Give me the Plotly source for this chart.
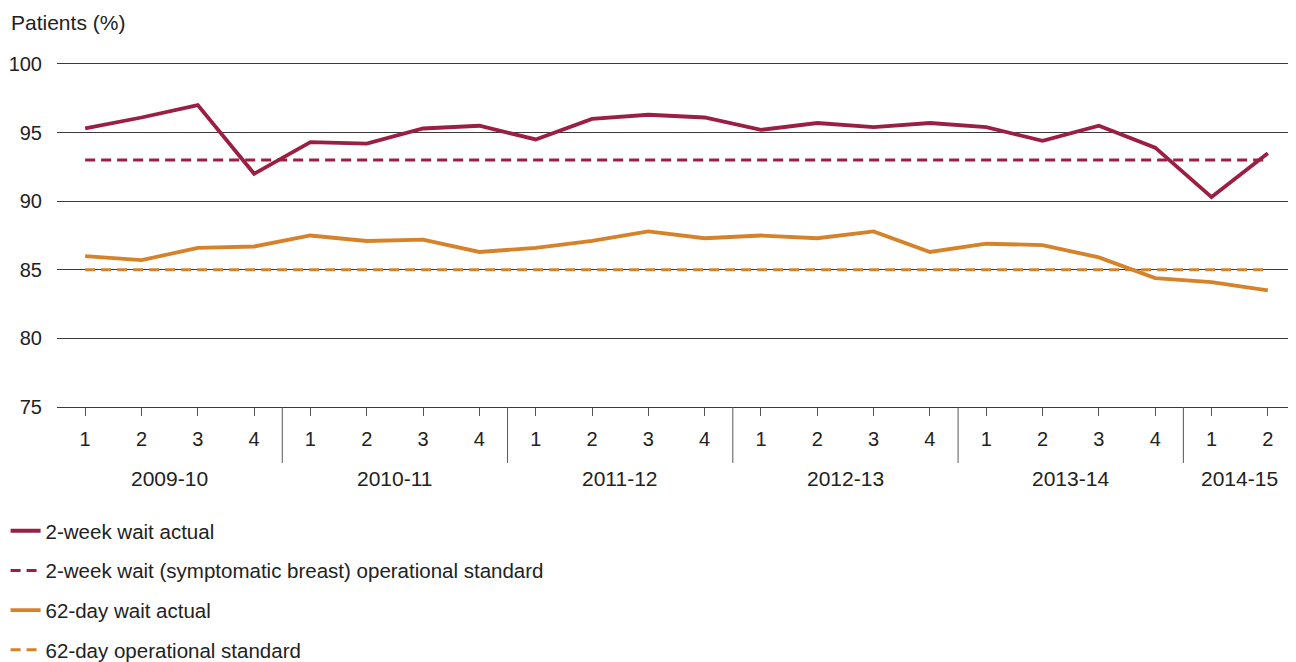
import plotly.graph_objects as go

years = ["2009-10", "2010-11", "2011-12", "2012-13", "2013-14", "2014-15"]
quarters_per_year = [4, 4, 4, 4, 4, 2]

two_week_actual = [95.3, 96.1, 97.0, 92.0, 94.3, 94.2, 95.3, 95.5, 94.5, 96.0, 96.3,
                   96.1, 95.2, 95.7, 95.4, 95.7, 95.4, 94.4, 95.5, 93.9, 90.3, 93.5]
two_week_standard = 93
sixty_two_actual = [86.0, 85.7, 86.6, 86.7, 87.5, 87.1, 87.2, 86.3, 86.6, 87.1, 87.8,
                    87.3, 87.5, 87.3, 87.8, 86.3, 86.9, 86.8, 85.9, 84.4, 84.1, 83.5]
sixty_two_standard = 85

MAROON = "#9B1F42"
ORANGE = "#D5822A"
TEXT = "#222222"
FONT = "Liberation Sans, Arial, sans-serif"

quarter_labels = []
for n in quarters_per_year:
    quarter_labels += [str(q) for q in range(1, n + 1)]
x = list(range(len(quarter_labels)))


def main():
    fig = go.Figure()
    traces = [
        ("2-week wait actual", two_week_actual, MAROON, "solid", 3.8),
        ("2-week wait (symptomatic breast) operational standard",
         [two_week_standard] * len(x), MAROON, "10px,6px", 3),
        ("62-day wait actual", sixty_two_actual, ORANGE, "solid", 3.8),
        ("62-day operational standard", [sixty_two_standard] * len(x), ORANGE, "10px,6px", 3),
    ]
    for i, (name, ys, color, dash, width) in enumerate(traces):
        fig.add_trace(go.Scatter(
            x=x, y=ys, name=name, mode="lines", legendgroup=str(i),
            line=dict(color=color, dash=dash, width=width),
        ))

    # group labels and dividers under the quarter ticks
    start = 0
    for k, (year, n) in enumerate(zip(years, quarters_per_year)):
        fig.add_annotation(
            x=start + (n - 1) / 2, y=0, xref="x", yref="paper", yanchor="middle",
            yshift=-71, text=year, showarrow=False, font=dict(size=21, color=TEXT),
        )
        if k < len(years) - 1:
            fig.add_shape(
                type="line", xref="x", yref="paper", x0=start + n - 0.5, x1=start + n - 0.5,
                y0=0, y1=-0.163, line=dict(color="#555555", width=1),
            )
        start += n

    fig.add_annotation(
        x=0, y=1, xref="paper", yref="paper", xshift=-48, yshift=42, xanchor="left",
        yanchor="middle", text="Patients (%)", showarrow=False, font=dict(size=21, color=TEXT),
    )

    # the page adds an 8px body margin, so the figure is 8px smaller than the window
    fig.update_layout(
        width=1288, height=654,
        margin=dict(l=49, r=0, t=56, b=255, autoexpand=False),
        paper_bgcolor="white", plot_bgcolor="white",
        font=dict(family=FONT, size=20, color=TEXT),
        showlegend=True,
        legend=dict(
            x=-0.0415, y=-0.303, xanchor="left", yanchor="top", traceorder="grouped",
            tracegroupgap=10, font=dict(size=20.5, color=TEXT),
        ),
        xaxis=dict(
            range=[-0.5, len(x) - 0.5], tickvals=x, ticktext=quarter_labels,
            showgrid=False, zeroline=False, showline=True, linecolor="#3a3a3a",
            mirror=True, automargin=False,
            ticks="outside", ticklen=8, tickcolor="#555555", tickwidth=1,
            ticklabelstandoff=6, tickfont=dict(size=20),
        ),
        yaxis=dict(
            range=[75, 100], dtick=5, showgrid=True, gridcolor="#3a3a3a", gridwidth=1,
            zeroline=False, showline=False, ticks="", ticklabelstandoff=14,
            automargin=False, tickfont=dict(size=20),
        ),
    )
    fig.write_html("out.html")


if __name__ == "__main__":
    main()
